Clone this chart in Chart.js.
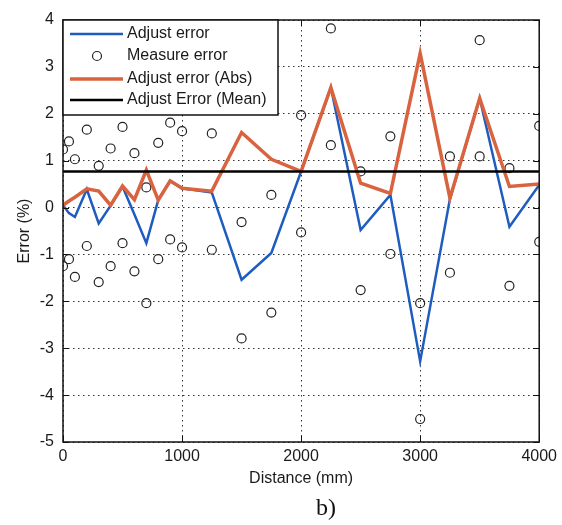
<!DOCTYPE html>
<html>
<head>
<meta charset="utf-8">
<title>Adjust error vs distance</title>
<script src="https://cdn.jsdelivr.net/npm/chart.js@4.4.1/dist/chart.umd.min.js"></script>
<style>
  html, body { margin: 0; padding: 0; background: #fff; }
  #wrap { width: 562px; height: 525px; position: relative; }
</style>
</head>
<body>
<div id="wrap"><canvas id="errChart"></canvas></div>
<script>
// distances (mm) where the error was evaluated
const distance = [0, 50, 100, 200, 300, 400, 500, 600, 700, 800, 900, 1000,
                  1250, 1500, 1750, 2000, 2250, 2500, 2750, 3000, 3250, 3500, 3750, 4000];
// error values (%)
const adjustError = [0.05, -0.12, -0.2, 0.39, -0.34, 0.04, 0.45, -0.15, -0.76, 0.16, 0.57, 0.41,
                     0.32, -1.54, -0.97, 0.77, 2.56, -0.48, 0.27, -3.28, 0.18, 2.33, -0.41, 0.48];
const adjustErrorAbs = [0.05, 0.14, 0.22, 0.4, 0.35, 0.05, 0.46, 0.17, 0.8, 0.16, 0.57, 0.41,
                        0.35, 1.6, 1.03, 0.77, 2.56, 0.52, 0.3, 3.29, 0.2, 2.33, 0.45, 0.5];
const measureHigh = [1.24, 1.41, 1.03, 1.66, 0.89, 1.26, 1.72, 1.16, 0.43, 1.38, 1.81, 1.63,
                     1.58, -0.31, 0.27, 1.97, 3.82, 0.77, 1.52, -2.04, 1.09, 3.57, 0.84, 1.74];
const measureLow = [-1.25, -1.10, -1.48, -0.82, -1.59, -1.25, -0.76, -1.36, -2.04, -1.10, -0.68, -0.85,
                    -0.90, -2.79, -2.24, -0.53, 1.33, -1.76, -0.99, -4.51, -1.39, 1.09, -1.67, -0.73];
const meanX = [0, 4000];
const meanY = [0.77, 0.77];

const xTicks = [0, 1000, 2000, 3000, 4000];
const yTicks = [-5, -4, -3, -2, -1, 0, 1, 2, 3, 4];

const FONT = 'Liberation Sans, Arial, sans-serif';

function toPoints(xs, ys) {
    return xs.map((v, i) => ({x: v, y: ys[i]}));
}

const measurePoints = [];
distance.forEach((d, i) => {
    measurePoints.push({x: d, y: measureHigh[i]});
    measurePoints.push({x: d, y: measureLow[i]});
});

// box around the plot with inward ticks (matlab look)
const framePlugin = {
    id: 'frame',
    afterDatasetsDraw(chart) {
        const {ctx, chartArea: a, scales: {x, y}} = chart;
        ctx.save();
        ctx.strokeStyle = '#111';
        ctx.lineWidth = 1;
        ctx.beginPath();
        xTicks.forEach(v => {
            const px = Math.round(x.getPixelForValue(v)) + 0.5;
            ctx.moveTo(px, a.bottom); ctx.lineTo(px, a.bottom - 6);
            ctx.moveTo(px, a.top); ctx.lineTo(px, a.top + 6);
        });
        yTicks.forEach(v => {
            const py = Math.round(y.getPixelForValue(v)) + 0.5;
            ctx.moveTo(a.left, py); ctx.lineTo(a.left + 6, py);
            ctx.moveTo(a.right, py); ctx.lineTo(a.right - 6, py);
        });
        ctx.stroke();
        ctx.lineWidth = 1.5;
        ctx.strokeRect(a.left, a.top, a.right - a.left, a.bottom - a.top);
        ctx.restore();
    }
};

// legend box in the top left corner of the plot
const boxLegend = {
    id: 'boxLegend',
    afterDraw(chart) {
        const {ctx, chartArea: a} = chart;
        const rows = [34, 56, 79, 100];
        ctx.save();
        ctx.fillStyle = '#fff';
        ctx.fillRect(a.left, a.top, 215, 95);
        ctx.strokeStyle = '#111';
        ctx.lineWidth = 1.5;
        ctx.strokeRect(a.left, a.top, 215, 95);
        chart.data.datasets.forEach((ds, i) => {
            const yy = rows[i];
            if (ds.showLine === false) {
                ctx.beginPath();
                ctx.arc(a.left + 34, yy, ds.pointRadius, 0, Math.PI * 2);
                ctx.lineWidth = ds.borderWidth;
                ctx.strokeStyle = ds.borderColor;
                ctx.stroke();
            } else {
                ctx.beginPath();
                ctx.moveTo(a.left + 7, yy);
                ctx.lineTo(a.left + 60, yy);
                ctx.lineWidth = ds.borderWidth;
                ctx.strokeStyle = ds.borderColor;
                ctx.stroke();
            }
            ctx.fillStyle = '#1a1a1a';
            ctx.font = '16px ' + FONT;
            ctx.textBaseline = 'middle';
            ctx.fillText(ds.label, a.left + 64, yy);
        });
        ctx.restore();
    }
};

// sub-figure caption
const caption = {
    id: 'caption',
    afterDraw(chart) {
        const ctx = chart.ctx;
        ctx.save();
        ctx.fillStyle = '#111';
        ctx.font = '24px Liberation Serif, Times New Roman, serif';
        ctx.textAlign = 'center';
        ctx.textBaseline = 'middle';
        ctx.fillText('b)', 326, 509);
        ctx.restore();
    }
};

const gridStyle = {
    color: '#333',
    lineWidth: 1,
    drawTicks: false
};

new Chart(document.getElementById('errChart').getContext('2d'), {
    type: 'line',
    data: {
        datasets: [{
            label: 'Adjust error',
            data: toPoints(distance, adjustError),
            borderColor: '#1f5cbf',
            borderWidth: 2.5,
            pointRadius: 0,
            tension: 0,
            order: 4
        }, {
            label: 'Measure error',
            data: measurePoints,
            showLine: false,
            borderColor: '#222',
            backgroundColor: 'rgba(0,0,0,0)',
            borderWidth: 1.2,
            pointRadius: 4.5,
            order: 3
        }, {
            label: 'Adjust error (Abs)',
            data: toPoints(distance, adjustErrorAbs),
            borderColor: '#d9633f',
            borderWidth: 3.5,
            pointRadius: 0,
            tension: 0,
            order: 2
        }, {
            label: 'Adjust Error (Mean)',
            data: toPoints(meanX, meanY),
            borderColor: '#000',
            borderWidth: 2.5,
            pointRadius: 0,
            order: 1
        }]
    },
    options: {
        responsive: true,
        maintainAspectRatio: false,
        animation: false,
        layout: {
            padding: {top: 20, right: 22, bottom: 33, left: 0}
        },
        scales: {
            x: {
                type: 'linear',
                min: 0,
                max: 4000,
                afterBuildTicks: scale => { scale.ticks = xTicks.map(v => ({value: v})); },
                afterFit: scale => { scale.height = 50; },
                grid: gridStyle,
                border: {display: false, dash: [1.5, 3.5]},
                ticks: {
                    color: '#1a1a1a',
                    padding: 5,
                    maxRotation: 0,
                    callback: v => String(v),
                    font: {family: FONT, size: 16}
                },
                title: {
                    display: true,
                    text: 'Distance (mm)',
                    color: '#1a1a1a',
                    padding: {top: 4, bottom: 4},
                    font: {family: FONT, size: 16}
                }
            },
            y: {
                type: 'linear',
                min: -5,
                max: 4,
                afterBuildTicks: scale => { scale.ticks = yTicks.map(v => ({value: v})); },
                afterFit: scale => { scale.width = 63; },
                grid: gridStyle,
                border: {display: false, dash: [1.5, 3.5]},
                ticks: {
                    color: '#1a1a1a',
                    padding: 9,
                    callback: v => String(v),
                    font: {family: FONT, size: 16}
                },
                title: {
                    display: true,
                    text: 'Error (%)',
                    color: '#1a1a1a',
                    padding: {top: 15, bottom: 0},
                    font: {family: FONT, size: 16}
                }
            }
        },
        plugins: {
            legend: {display: false},
            tooltip: {enabled: false}
        }
    },
    plugins: [framePlugin, boxLegend, caption]
});
</script>
</body>
</html>
